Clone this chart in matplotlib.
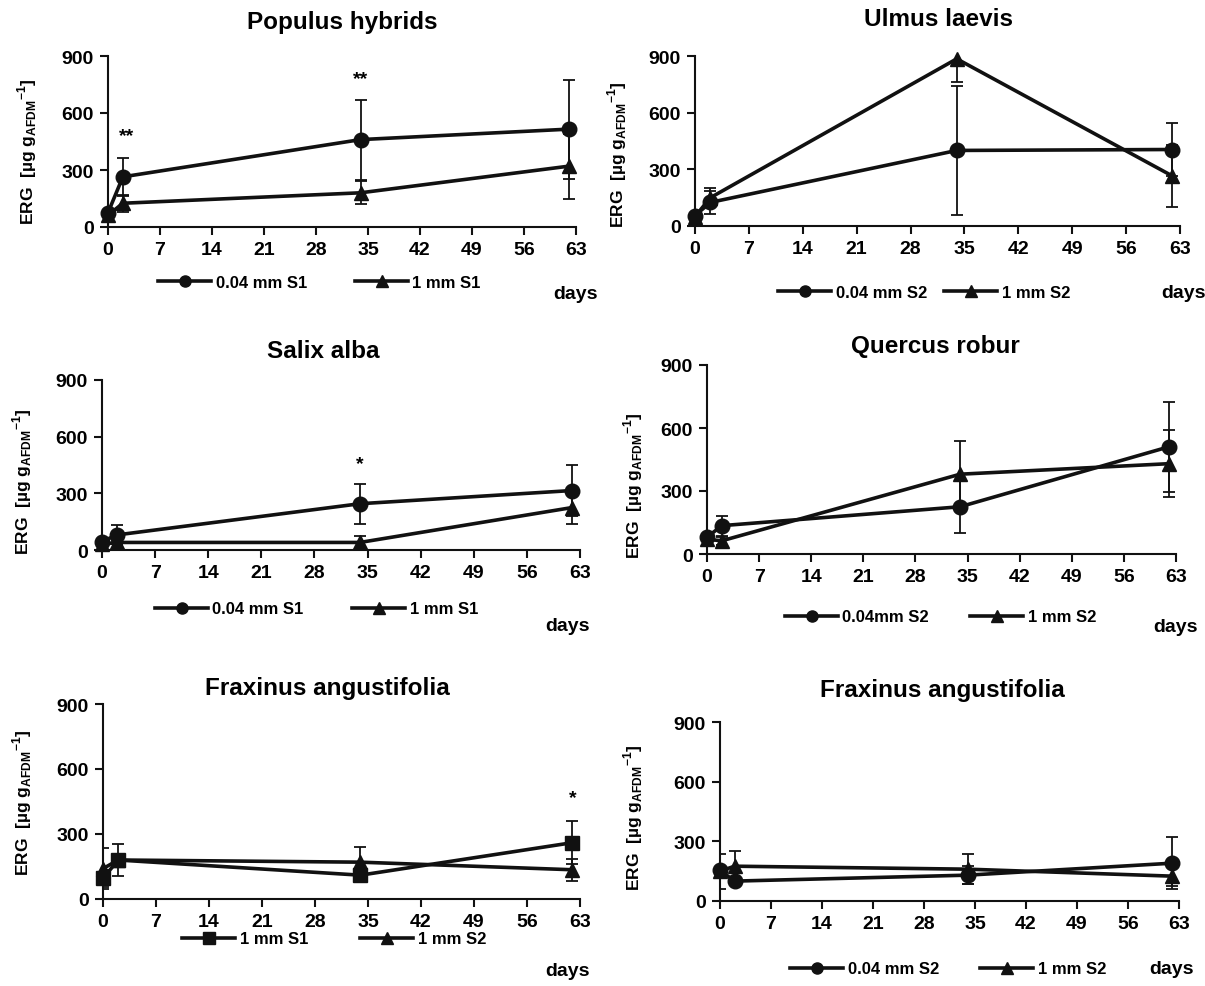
import matplotlib
matplotlib.use("Agg")
import matplotlib.pyplot as plt
from matplotlib.lines import Line2D

W, H = 1205, 987
K = "#111111"

# sampling days and axis ticks
days = [0, 2, 34, 62]
xticks = [0, 7, 14, 21, 28, 35, 42, 49, 56, 63]
yticks = [0, 300, 600, 900]

# Populus hybrids (S1)
pop_fine = [75, 264, 460, 515]
pop_fine_err = [15, 100, 210, 260]
pop_coarse = [62, 125, 180, 320]
pop_coarse_err = [12, 45, 60, 170]

# Ulmus laevis (S2)
ulm_fine = [55, 125, 400, 405]
ulm_fine_err = [10, 60, 340, 140]
ulm_coarse = [50, 150, 885, 265]
ulm_coarse_err = [10, 50, 125, 165]

# Salix alba (S1)
sal_fine = [45, 80, 245, 315]
sal_fine_err = [10, 50, 105, 135]
sal_coarse = [30, 40, 40, 225]
sal_coarse_err = [5, 10, 35, 85]

# Quercus robur (S2)
que_fine = [80, 135, 225, 510]
que_fine_err = [15, 47, 125, 215]
que_coarse = [70, 63, 380, 430]
que_coarse_err = [10, 20, 160, 160]

# Fraxinus angustifolia, 1 mm S1 vs 1 mm S2
fra1_s1 = [95, 180, 110, 260]
fra1_s1_err = [40, 72, 15, 100]
fra1_s2 = [140, 180, 170, 135]
fra1_s2_err = [95, 20, 70, 50]

# Fraxinus angustifolia, 0.04 mm S2 vs 1 mm S2
fra2_fine = [155, 100, 130, 190]
fra2_fine_err = [10, 20, 45, 130]
fra2_coarse = [150, 175, 160, 125]
fra2_coarse_err = [88, 75, 75, 50]

NARROW = ["Liberation Sans Narrow", "Liberation Sans", "DejaVu Sans"]
WIDE = ["Liberation Sans", "DejaVu Sans"]

panels = [
    dict(title="Populus hybrids", box=(108, 57, 576, 228), tpos=(342, 22),
         series=[("0.04 mm S1", "o", pop_fine, pop_fine_err),
                 ("1 mm S1", "^", pop_coarse, pop_coarse_err)],
         stars=[(2.5, 480, "**"), (34, 780, "**")],
         leg=(158, 355, 283), dpos=(575, 295), ylab=(27, 152)),
    dict(title="Ulmus laevis", box=(695, 57, 1180, 227), tpos=(938, 20),
         series=[("0.04 mm S2", "o", ulm_fine, ulm_fine_err),
                 ("1 mm S2", "^", ulm_coarse, ulm_coarse_err)],
         stars=[],
         leg=(778, 944, 293), dpos=(1183, 293), ylab=(617, 155)),
    dict(title="Salix alba", box=(102, 381, 580, 551), tpos=(323, 352),
         series=[("0.04 mm S1", "o", sal_fine, sal_fine_err),
                 ("1 mm S1", "^", sal_coarse, sal_coarse_err)],
         stars=[(34, 455, "*")],
         leg=(155, 352, 610), dpos=(567, 627), ylab=(22, 482)),
    dict(title="Quercus robur", box=(707, 366, 1176, 555), tpos=(935, 347),
         series=[("0.04mm S2", "o", que_fine, que_fine_err),
                 ("1 mm S2", "^", que_coarse, que_coarse_err)],
         stars=[],
         leg=(785, 970, 618), dpos=(1175, 628), ylab=(633, 486)),
    dict(title="Fraxinus angustifolia", box=(103, 705, 580, 900), tpos=(327, 688),
         series=[("1 mm S1", "s", fra1_s1, fra1_s1_err),
                 ("1 mm S2", "^", fra1_s2, fra1_s2_err)],
         stars=[(62, 470, "*")],
         leg=(182, 360, 940), dpos=(568, 972), ylab=(22, 803)),
    dict(title="Fraxinus angustifolia", box=(720, 723, 1179, 902), tpos=(942, 690),
         series=[("0.04 mm S2", "o", fra2_fine, fra2_fine_err),
                 ("1 mm S2", "^", fra2_coarse, fra2_coarse_err)],
         stars=[],
         leg=(790, 980, 970), dpos=(1171, 970), ylab=(633, 818)),
]

fig = plt.figure(figsize=(W / 100, H / 100), dpi=100)

for p in panels:
    l, t, r, b = p["box"]
    ax = fig.add_axes([l / W, 1 - b / H, (r - l) / W, (b - t) / H])
    handles = []
    for lab, mk, vals, errs in p["series"]:
        ax.errorbar(days, vals, yerr=errs, fmt="none", ecolor=K,
                    elinewidth=1.3, capsize=4, capthick=1.3, zorder=2)
        ax.plot(days, vals, color=K, lw=2.6, marker=mk, ms=10.5,
                clip_on=False, zorder=3)
        handles.append(Line2D([], [], color=K, lw=2.6, marker=mk, ms=8))
    for sx, sy, s in p["stars"]:
        ax.text(sx, sy, s, ha="center", va="center", fontsize=14,
                fontweight="bold", family=WIDE)

    ax.set_xlim(0, 63)
    ax.set_ylim(0, 900)
    ax.set_xticks(xticks)
    ax.set_yticks(yticks)
    for sp in ("top", "right"):
        ax.spines[sp].set_visible(False)
    for sp in ("left", "bottom"):
        ax.spines[sp].set_linewidth(1.5)
        ax.spines[sp].set_color(K)
    ax.tick_params(direction="out", length=6, width=1.5, color=K, pad=4)
    for lbl in ax.get_xticklabels() + ax.get_yticklabels():
        lbl.set_family(NARROW)
        lbl.set_fontsize(14)
        lbl.set_fontweight("bold")

    fig.text(p["tpos"][0] / W, 1 - p["tpos"][1] / H, p["title"],
             ha="center", va="center", fontsize=17.5, fontweight="bold", family=WIDE)
    fig.text(p["ylab"][0] / W, 1 - p["ylab"][1] / H,
             r"ERG  [µg g$_{\mathregular{AFDM}}$$^{\mathregular{-1}}$]",
             rotation=90, ha="center", va="center", fontsize=12.5,
             fontweight="bold", family=NARROW)
    fig.text(p["dpos"][0] / W, 1 - p["dpos"][1] / H, "days",
             ha="center", va="center", fontsize=14, fontweight="bold", family=NARROW)

    x1, x2, ly = p["leg"]
    for hx, h, (lab, *_rest) in zip((x1, x2), handles, p["series"]):
        fig.legend([h], [lab], loc="center left",
                   bbox_to_anchor=(hx / W, 1 - ly / H),
                   frameon=False, handlelength=3.2, handletextpad=0.25,
                   borderpad=0, borderaxespad=0,
                   prop=dict(family=NARROW, size=12, weight="bold"))

fig.savefig("out.png", dpi=100)
